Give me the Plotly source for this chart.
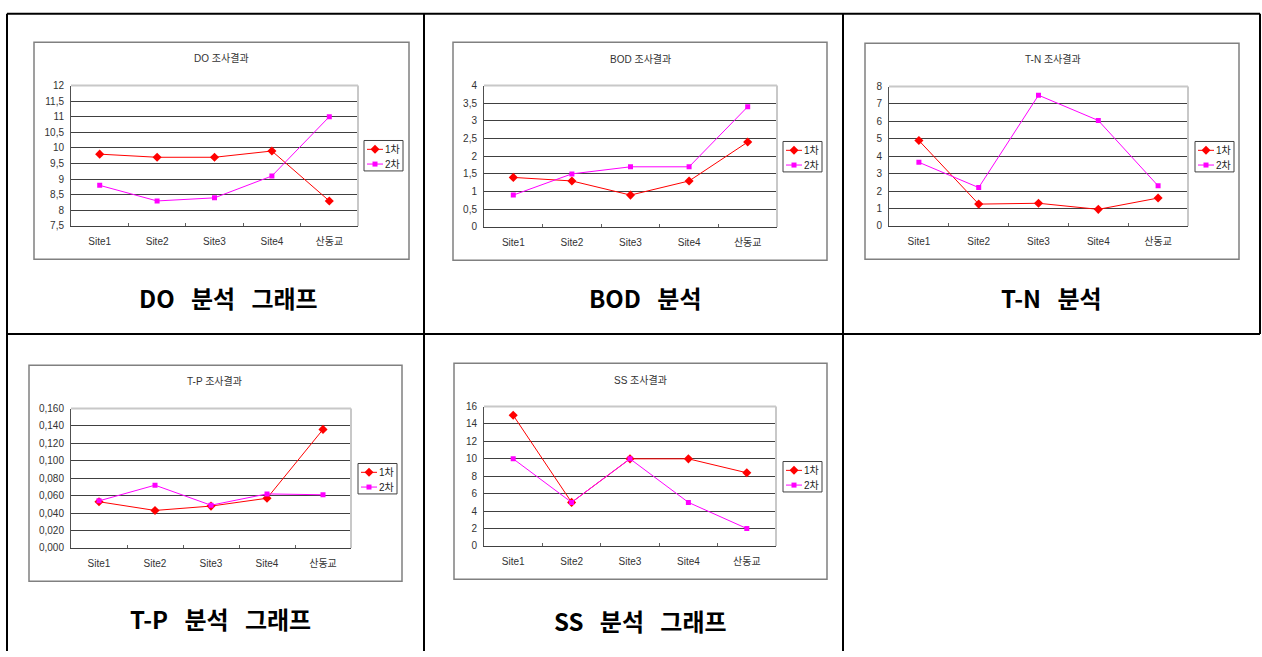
import plotly.graph_objects as go

W, H = 1262, 657

categories = ["Site1", "Site2", "Site3", "Site4", "산동교"]
series_names = ["1차", "2차"]

do_1 = [9.8, 9.7, 9.7, 9.9, 8.3]
do_2 = [8.8, 8.3, 8.4, 9.1, 11.0]
bod_1 = [1.4, 1.3, 0.9, 1.3, 2.4]
bod_2 = [0.9, 1.5, 1.7, 1.7, 3.4]
tn_1 = [4.9, 1.25, 1.3, 0.95, 1.6]
tn_2 = [3.65, 2.2, 7.5, 6.05, 2.3]
tp_1 = [0.053, 0.043, 0.048, 0.057, 0.136]
tp_2 = [0.054, 0.072, 0.049, 0.062, 0.061]
ss_1 = [15, 5, 10, 10, 8.4]
ss_2 = [10, 5, 10, 5, 2]

chart_titles = ["DO 조사결과", "BOD 조사결과", "T-N 조사결과", "T-P 조사결과", "SS 조사결과"]
captions = ["DO 분석 그래프", "BOD 분석", "T-N 분석", "T-P 분석 그래프", "SS 분석 그래프"]

# series styles
styles = [
    dict(color="#ff0000", symbol="diamond", size=7),
    dict(color="#ff00ff", symbol="square", size=5),
]

# layout specs (pixels)
charts = [
    dict(s=(do_1, do_2), yr=[7.5, 12], dt=0.5, fmt="",
         plot=(71, 358, 81, 224), frame=(34, 409, 37, 258), title=(221, 53),
         legend=(364, 137), caption=(228, 297)),
    dict(s=(bod_1, bod_2), yr=[0, 4], dt=0.5, fmt="",
         plot=(484, 777, 81, 225), frame=(453, 827, 37, 259), title=(640, 55),
         legend=(783, 138), caption=(645, 297)),
    dict(s=(tn_1, tn_2), yr=[0, 8], dt=1, fmt="",
         plot=(889, 1188, 82, 224), frame=(865, 1239, 38, 258), title=(1053, 54),
         legend=(1195, 138), caption=(1051, 297)),
    dict(s=(tp_1, tp_2), yr=[0, 0.16], dt=0.02, fmt=".3f",
         plot=(71, 351, 410, 552), frame=(29, 402, 366, 586), title=(215, 382),
         legend=(358, 466), caption=(220, 624)),
    dict(s=(ss_1, ss_2), yr=[0, 16], dt=2, fmt="",
         plot=(484, 776, 408, 550), frame=(454, 827, 364, 584), title=(640, 381),
         legend=(783, 464), caption=(640, 626)),
]

def px(x):
    return x / W

def py(y):
    return 1 - y / H

SMALL = "Liberation Sans, Noto Sans CJK KR, sans-serif"
BIG = "Noto Sans CJK KR, sans-serif"

fig = go.Figure()
layout = dict(
    width=W, height=H, margin=dict(l=0, r=0, t=0, b=0),
    paper_bgcolor="white", plot_bgcolor="white",
    separators=",.", showlegend=False,
    font=dict(family=SMALL, size=10, color="#222"),
)
shapes = []
annotations = []

# table lines
tbl = dict(color="black", width=2)
for (x0, y0, x1, y1) in [
    (7, 8, 1260, 8), (7, 334, 1260, 334), (7, 8, 7, 657),
    (424, 8, 424, 657), (843, 8, 843, 657), (1260, 8, 1260, 334),
]:
    shapes.append(dict(type="line", xref="paper", yref="paper",
                       x0=px(x0), y0=py(y0), x1=px(x1), y1=py(y1), line=tbl, layer="below"))

for i, c in enumerate(charts):
    n = i + 1
    xa = "x" if n == 1 else f"x{n}"
    ya = "y" if n == 1 else f"y{n}"
    for k, vals in enumerate(c["s"]):
        st = styles[k]
        fig.add_trace(go.Scatter(
            x=categories, y=vals, name=series_names[k], xaxis=xa, yaxis=ya,
            mode="lines+markers", line=dict(color=st["color"], width=1),
            marker=dict(symbol=st["symbol"], size=st["size"], color=st["color"])))

    l, r, t, b = c["plot"]
    layout["xaxis" if n == 1 else f"xaxis{n}"] = dict(
        domain=[px(l), px(r)], anchor=ya, type="category", range=[-0.5, 4.5],
        showgrid=False, showline=True, linecolor="#404040", linewidth=1,
        ticks="inside", tickson="boundaries", ticklen=3, tickcolor="#606060",
        ticklabelstandoff=6, tickfont=dict(family=SMALL, size=10, color="#333"),
        fixedrange=True, zeroline=False)
    layout["yaxis" if n == 1 else f"yaxis{n}"] = dict(
        domain=[py(b), py(t)], anchor=xa, range=c["yr"], dtick=c["dt"], tick0=0,
        tickformat=c["fmt"], showgrid=True, gridcolor="#404040", gridwidth=1,
        showline=True, linecolor="#505050", linewidth=1, ticks="",
        ticklabelstandoff=4, tickfont=dict(family=SMALL, size=10, color="#333"),
        zeroline=False, fixedrange=True)

    # plot area light border top & right
    for (x0, y0, x1, y1) in [(0, 1, 1, 1), (1, 0, 1, 1)]:
        shapes.append(dict(type="line", xref=f"{xa} domain", yref=f"{ya} domain",
                           x0=x0, y0=y0, x1=x1, y1=y1,
                           line=dict(color="#c8c8c8", width=2), layer="above"))
    # chart frame
    fl, fr, ft, fb = c["frame"]
    shapes.append(dict(type="rect", xref="paper", yref="paper",
                       x0=px(fl), x1=px(fr), y0=py(fb), y1=py(ft),
                       line=dict(color="#808080", width=1.5), layer="below"))
    # chart title
    tx, ty = c["title"]
    annotations.append(dict(text=chart_titles[i], xref="paper", yref="paper",
                            x=px(tx), y=py(ty), showarrow=False,
                            xanchor="center", yanchor="middle",
                            font=dict(family=SMALL, size=10, color="#333")))
    # caption
    cx, cy = c["caption"]
    annotations.append(dict(text=captions[i].replace(" ", "\u00a0\u00a0\u00a0"),
                            xref="paper", yref="paper",
                            x=px(cx), y=py(cy), showarrow=False,
                            xanchor="center", yanchor="middle",
                            font=dict(family=BIG, size=24, color="black", weight="bold")))
    # compact legend box
    lx, ly = c["legend"]
    shapes.append(dict(type="rect", xref="paper", yref="paper",
                       x0=px(lx), x1=px(lx + 39), y0=py(ly + 31), y1=py(ly),
                       line=dict(color="#404040", width=1), fillcolor="white", layer="above"))
    for k, name in enumerate(series_names):
        st = styles[k]
        ry = ly + 9 + 15 * k
        shapes.append(dict(type="line", xref="paper", yref="paper",
                           x0=px(lx + 3), x1=px(lx + 19), y0=py(ry), y1=py(ry),
                           line=dict(color=st["color"], width=1), layer="above"))
        h = st["size"] / 2 + (1 if st["symbol"] == "diamond" else 0)
        if st["symbol"] == "diamond":
            path = f"M {-h} 0 L 0 {h} L {h} 0 L 0 {-h} Z"
        else:
            path = f"M {-h} {-h} L {h} {-h} L {h} {h} L {-h} {h} Z"
        shapes.append(dict(type="path", xref="paper", yref="paper",
                           xsizemode="pixel", ysizemode="pixel",
                           xanchor=px(lx + 11), yanchor=py(ry), path=path,
                           fillcolor=st["color"], line=dict(width=0), layer="above"))
        annotations.append(dict(text=name, xref="paper", yref="paper",
                                x=px(lx + 20), y=py(ry), showarrow=False,
                                xanchor="left", yanchor="middle", borderpad=0,
                                font=dict(family=SMALL, size=10, color="#222")))

layout["shapes"] = shapes
layout["annotations"] = annotations
fig.update_layout(**layout)
fig.write_html("out.html")
